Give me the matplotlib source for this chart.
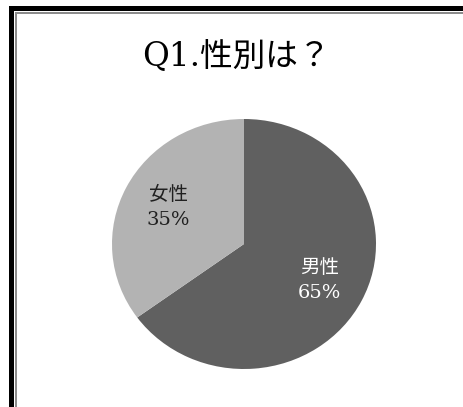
"""Q1 gender pie chart."""

import numpy as np
from matplotlib import pyplot as plt
from matplotlib.patches import Rectangle

labels = ['男性', '女性']
percent = [65, 35]
colors = ['#606060', '#b3b3b3']
label_colors = ['white', '#202020']
title = 'Q1.性別は？'

W, H = 464, 407
fonts = ['DejaVu Serif', 'Noto Sans CJK JP']

fig = plt.figure(figsize=(W / 100, H / 100), dpi=100)
fig.patch.set_facecolor('white')


def px_rect(x0, y0, x1, y1, color):
    # rectangle given in image pixels (y from top)
    fig.patches.append(Rectangle((x0 / W, 1 - y1 / H), (x1 - x0) / W, (y1 - y0) / H,
                                 transform=fig.transFigure, facecolor=color,
                                 edgecolor='none', zorder=0))


# frame, cut off on the right and bottom
px_rect(9, 6, W + 5, 11, 'black')
px_rect(9, 6, 14, H + 5, 'black')
px_rect(15, 12, W + 5, 13.5, '#8c8c8c')
px_rect(15, 12, 16.5, H + 5, '#8c8c8c')

fig.text(236 / W, 1 - 56 / H, title, ha='center', va='center', fontsize=23.5,
         family=fonts, color='black')

ax = fig.add_axes([112 / W, 1 - 369 / H, 264 / W, 250 / H])
wedges, texts = ax.pie(percent, colors=colors, startangle=90, counterclock=False,
                       labels=[f'{n}\n{p}%' for n, p in zip(labels, percent)],
                       labeldistance=0.64, radius=1.0,
                       wedgeprops=dict(linewidth=0))
for t, c in zip(texts, label_colors):
    t.set_ha('center')
    t.set_va('center')
    t.set_color(c)
    t.set_fontsize(14)
    t.set_family(fonts)
    t.set_linespacing(1.5)
ax.set_aspect('auto')
ax.set_xlim(-1, 1)
ax.set_ylim(-1, 1)
ax.axis('off')

fig.savefig('out.png', dpi=100)
